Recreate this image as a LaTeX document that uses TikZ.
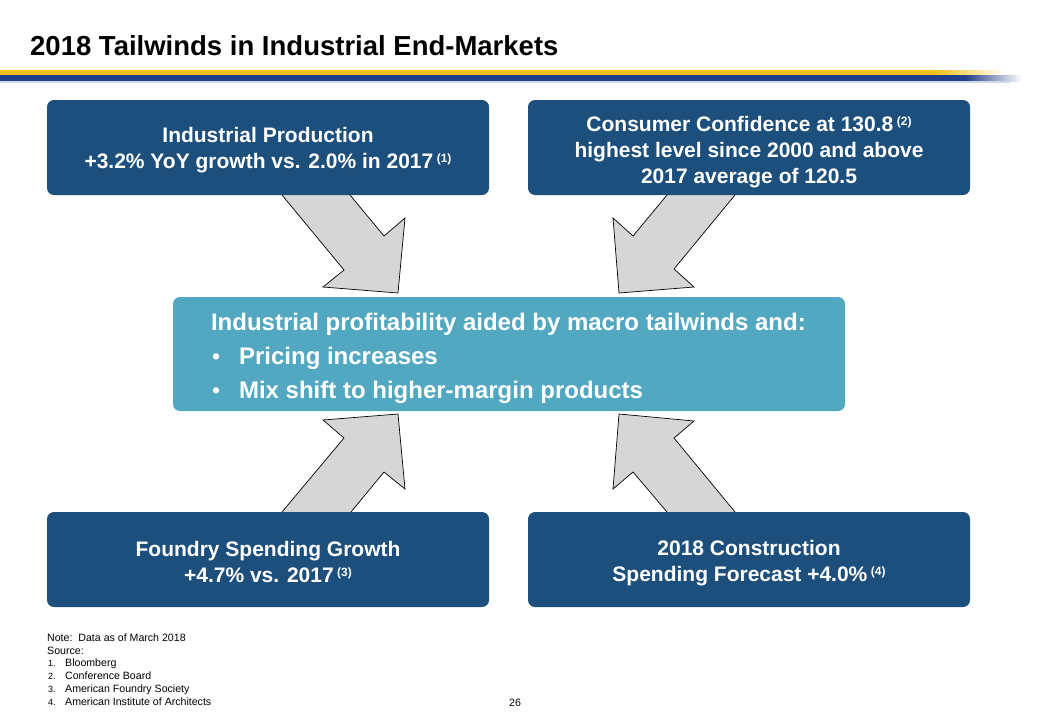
\documentclass[tikz,border=0pt]{standalone}
\usepackage{fontspec}
\setmainfont{Liberation Sans}
\usetikzlibrary{positioning}
\definecolor{boxblue}{HTML}{1D4F7C}
\definecolor{boxteal}{HTML}{52A8C0}
\definecolor{arrowgray}{HTML}{D6D6D6}
\definecolor{stripeyellow}{HTML}{F2C11A}
\definecolor{stripeblue}{HTML}{213F88}
\newcommand{\fnref}[1]{\,\raisebox{6pt}{\fontsize{12}{12}\selectfont(#1)}}
\newcommand{\gainbullet}{\hspace*{1pt}{\mdseries\fontsize{23}{23}\selectfont\textbullet}\hspace{19pt}}
\tikzset{
	marketbox/.style={fill=boxblue, rounded corners=7pt, minimum width=442pt, minimum height=95pt, inner sep=0pt},
	boxtext/.style={text=white, font=\fontsize{21}{26}\selectfont\bfseries, align=center, inner sep=0pt},
	tailarrow/.style={fill=arrowgray, draw=black, line width=0.7pt, line join=miter},
	footline/.style={anchor=base west, font=\fontsize{10.6}{13}\selectfont, inner sep=0pt}
}
\begin{document}
\begin{tikzpicture}[x=1pt,y=-1pt]
	\useasboundingbox (0,0) rectangle (1040,720);

	%titre
	\node [anchor=base west, inner sep=0, font=\fontsize{27.5}{30}\selectfont\bfseries] (title) at (30,55) {2018 Tailwinds in Industrial End-Markets};

	%bandeau
	\fill [stripeyellow] (0,70) rectangle (935,75);
	\shade [left color=stripeyellow, right color=white] (935,70) rectangle (1005,75);
	\fill [stripeblue] (0,75) rectangle (965,81);
	\shade [left color=stripeblue, right color=white] (965,75) rectangle (1022,81);
	\fill [stripeblue!20] (0,81) rectangle (1010,82.5);
	%fin

	%fleches
	\filldraw [tailarrow] (282,195) -- (344,270) -- (323,287) -- (398,293) -- (405,218) -- (384,236) -- (350,195);
	\filldraw [tailarrow] (667,195) -- (633,236) -- (613,218) -- (619,293) -- (694,287) -- (674,269) -- (735,195);
	\filldraw [tailarrow] (282,512) -- (344,438) -- (323,420) -- (398,414) -- (405,489) -- (384,472) -- (351,512);
	\filldraw [tailarrow] (667,512) -- (633,472) -- (613,489) -- (619,414) -- (694,421) -- (674,438) -- (735,512);

	%cases
	\node [marketbox] (production) at (268,147.5) {};
	\node [boxtext] (productiontext) at ([yshift=-3pt]production.center) {Industrial Production\\+3.2\% YoY growth vs. 2.0\% in 2017\fnref{1}};
	\node [marketbox] (confidence) at (749,147.5) {};
	\node [boxtext] (confidencetext) at ([yshift=-5pt]confidence.center) {Consumer Confidence at 130.8\fnref{2}\\highest level since 2000 and above\\2017 average of 120.5};
	\node [marketbox] (foundry) at (268,559.5) {};
	\node [boxtext] (foundrytext) at ([yshift=-2.5pt]foundry.center) {Foundry Spending Growth\\+4.7\% vs. 2017\fnref{3}};
	\node [marketbox] (construction) at (749,559.5) {};
	\node [boxtext] (constructiontext) at ([yshift=-3.5pt]construction.center) {2018 Construction\\Spending Forecast +4.0\%\fnref{4}};

	\node [fill=boxteal, rounded corners=7pt, minimum width=672pt, minimum height=114pt, inner sep=0] (profit) at (509,354) {};
	\node [anchor=west, align=left, text=white, inner sep=0, font=\fontsize{24}{34}\selectfont\bfseries] (profittext) at ([xshift=38pt,yshift=-4pt]profit.west)
		{Industrial profitability aided by macro tailwinds and:\\
		 \gainbullet Pricing increases\\
		 \gainbullet Mix shift to higher-margin products};

	%notes
	\node [footline] (note) at (47,641) {Note:\ \ Data as of March 2018};
	\node [footline] (source) at (47,654) {Source:};
	\foreach \i/\txt in {1/Bloomberg,2/Conference Board,3/American Foundry Society,4/American Institute of Architects}
	{
		\node [footline] (num\i) at (48,653+13.2*\i) {\fontsize{9}{9}\selectfont\i.};
		\node [footline] (src\i) at (65,653+13.2*\i) {\txt};
	}
	\node [footline, anchor=base] (page) at (515,706) {26};
\end{tikzpicture}
\end{document}
